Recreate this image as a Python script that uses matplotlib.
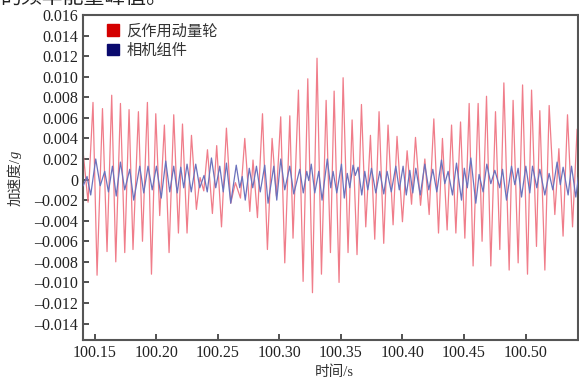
import matplotlib
matplotlib.use("Agg")
import matplotlib.pyplot as plt
from matplotlib.ticker import FixedLocator, FuncFormatter
from matplotlib.patches import Patch

plt.rcParams['font.family'] = ['Liberation Serif', 'Noto Sans CJK SC', 'DejaVu Sans']

# time in ms after 100 s, acceleration in g
red_t_ms = [140.7, 144.6, 148.6, 151.9, 156.3, 160.0, 163.8, 167.1, 170.9, 174.4,
            177.9, 181.1, 185.5, 188.8, 192.8, 196.1, 199.6, 202.8, 206.6, 210.4,
            214.2, 218.0, 221.3, 225.0, 228.6, 232.6, 235.6, 238.6, 241.6, 245.6,
            249.1, 253.0, 257.0, 260.5, 264.3, 268.4, 271.9, 276.0, 278.6, 282.2,
            286.3, 290.3, 294.1, 297.6, 301.1, 304.4, 308.5, 311.1, 315.5, 319.3,
            323.1, 326.9, 330.6, 334.2, 338.0, 341.5, 344.5, 348.5, 351.8, 355.8,
            359.1, 363.1, 366.7, 370.2, 374.0, 377.5, 381.0, 384.8, 388.3, 392.4,
            395.6, 400.0, 403.8, 407.4, 410.6, 414.7, 418.2, 421.7, 425.5, 429.3,
            432.5, 436.3, 439.9, 443.4, 447.2, 450.7, 454.2, 457.4, 461.5, 464.7,
            468.3, 471.8, 475.6, 479.1, 482.4, 486.7, 489.9, 494.0, 497.6, 501.6,
            504.9, 508.9, 511.6, 515.7, 519.2, 523.8, 527.1, 530.5, 534.1, 538.2,
            541.9, 542.9]
red_acc = [0.0025, -0.0022, 0.0075, -0.0093, 0.0069, -0.0070, 0.0082, -0.0080, 0.0074, -0.0071,
           0.0068, -0.0068, 0.0066, -0.0060, 0.0075, -0.0092, 0.0064, -0.0035, 0.0053, -0.0071,
           0.0063, -0.0052, 0.0054, -0.0052, 0.0043, -0.0029, 0.0002, -0.0011, 0.0029, -0.0033,
           0.0033, -0.0046, 0.0050, -0.0023, -0.0003, -0.0018, 0.0040, -0.0031, 0.0019, -0.0037,
           0.0064, -0.0068, 0.0040, -0.0016, 0.0061, -0.0081, 0.0062, -0.0057, 0.0087, -0.0099,
           0.0098, -0.0110, 0.0118, -0.0092, 0.0077, -0.0071, 0.0086, -0.0100, 0.0099, -0.0071,
           0.0058, -0.0073, 0.0073, -0.0046, 0.0043, -0.0058, 0.0066, -0.0062, 0.0053, -0.0044,
           0.0042, -0.0041, 0.0028, -0.0024, 0.0041, -0.0025, 0.0020, -0.0034, 0.0059, -0.0052,
           0.0040, -0.0049, 0.0053, -0.0052, 0.0056, -0.0057, 0.0074, -0.0084, 0.0074, -0.0060,
           0.0081, -0.0084, 0.0066, -0.0068, 0.0094, -0.0088, 0.0077, -0.0081, 0.0092, -0.0092,
           0.0087, -0.0065, 0.0067, -0.0088, 0.0072, -0.0034, 0.0030, -0.0055, 0.0063, -0.0046,
           0.0049, 0.0040]

blue_t_ms = [140.65, 143.74, 146.75, 150.81, 154.47, 158.13, 161.13, 164.38, 167.47, 170.88,
             174.38, 178.44, 181.69, 186.57, 189.82, 193.31, 196.72, 200.14, 204.04, 207.69,
             210.95, 214.20, 217.04, 219.88, 222.32, 225.00, 228.42, 232.07, 235.32, 238.82,
             241.42, 244.83, 248.32, 251.58, 254.42, 257.02, 260.51, 264.98, 267.83, 269.86,
             272.30, 275.55, 278.39, 281.40, 284.49, 288.14, 290.82, 295.46, 297.89, 301.14,
             304.39, 308.46, 311.71, 316.58, 319.43, 322.27, 323.90, 325.93, 328.77, 332.02,
             334.70, 338.93, 341.77, 343.64, 346.65, 350.47, 352.74, 355.18, 357.21, 359.89,
             361.68, 363.96, 366.96, 369.40, 371.84, 374.85, 378.34, 381.59, 384.84, 387.52,
             390.94, 394.59, 397.44, 400.53, 403.12, 405.97, 408.41, 410.84, 414.50, 418.16,
             421.41, 424.66, 427.91, 431.73, 434.41, 437.09, 440.67, 443.92, 447.98, 450.25,
             452.69, 455.54, 459.60, 462.28, 465.53, 468.54, 471.79, 475.04, 479.10, 481.30,
             484.55, 488.61, 491.29, 493.97, 496.74, 500.23, 503.48, 505.67, 509.17, 511.61,
             515.67, 519.17, 522.17, 525.66, 528.27, 530.54, 534.60, 537.36, 540.86, 542.89]
blue_acc = [-0.0006, 0.0003, -0.0015, 0.0020, -0.0006, 0.0008, -0.0012, 0.0013, -0.0016, 0.0017,
            -0.0010, 0.0010, -0.0020, 0.0013, -0.0013, 0.0013, -0.0010, 0.0013, -0.0018, 0.0018,
            -0.0012, 0.0013, -0.0013, 0.0012, -0.0008, 0.0015, -0.0012, 0.0015, -0.0008, 0.0004,
            -0.0012, 0.0021, -0.0008, 0.0013, -0.0012, 0.0016, -0.0023, 0.0014, -0.0008, 0.0003,
            -0.0020, 0.0011, -0.0008, 0.0013, -0.0012, 0.0014, -0.0023, 0.0013, -0.0020, 0.0020,
            -0.0010, 0.0013, -0.0014, 0.0010, -0.0013, 0.0008, -0.0001, 0.0015, -0.0013, 0.0008,
            -0.0020, 0.0020, -0.0008, 0.0008, -0.0013, 0.0015, -0.0018, 0.0006, -0.0008, 0.0014,
            0.0004, 0.0012, -0.0015, 0.0008, -0.0010, 0.0011, -0.0013, 0.0008, -0.0014, 0.0008,
            -0.0012, 0.0013, -0.0010, 0.0013, -0.0015, 0.0009, -0.0013, 0.0011, -0.0015, 0.0015,
            -0.0010, 0.0010, -0.0012, 0.0019, -0.0004, 0.0008, -0.0015, 0.0016, -0.0020, 0.0011,
            -0.0008, 0.0021, -0.0023, 0.0005, -0.0012, 0.0015, -0.0004, 0.0009, -0.0008, 0.0010,
            -0.0020, 0.0013, -0.0005, 0.0011, -0.0017, 0.0013, -0.0013, 0.0013, -0.0008, 0.0010,
            -0.0015, 0.0006, -0.0010, 0.0017, -0.0005, 0.0012, -0.0015, 0.0013, -0.0017, 0.0002]

series_names = ['反作用动量轮', '相机组件']
x_ticks = [100.15, 100.20, 100.25, 100.30, 100.35, 100.40, 100.45, 100.50]
y_ticks = [-0.014, -0.012, -0.010, -0.008, -0.006, -0.004, -0.002, 0.0,
           0.002, 0.004, 0.006, 0.008, 0.010, 0.012, 0.014, 0.016]

red_t = [100 + v / 1000 for v in red_t_ms]
blue_t = [100 + v / 1000 for v in blue_t_ms]

fig = plt.figure(figsize=(5.79, 3.81), dpi=100)
ax = fig.add_axes([0.1434, 0.1076, 0.8546, 0.853])

ax.plot(red_t, red_acc, color='#f07d8a', lw=0.9, zorder=2, solid_joinstyle='round')
ax.plot(blue_t, blue_acc, color='#6b72bd', lw=0.9, zorder=3, solid_joinstyle='round')

ax.set_xlim(100.1405, 100.5425)
ax.set_ylim(-0.0156, 0.016)
ax.xaxis.set_major_locator(FixedLocator(x_ticks))
ax.yaxis.set_major_locator(FixedLocator(y_ticks))
ax.xaxis.set_major_formatter(FuncFormatter(lambda v, p: f"{v:.2f}"))

def yfmt(v, p):
    if abs(v) < 1e-9:
        return "0"
    s = f"{abs(v):.3f}"
    return ("\u2013" + s) if v < 0 else s

ax.yaxis.set_major_formatter(FuncFormatter(yfmt))
ax.tick_params(direction='in', length=4, width=1.2, colors='#333333',
               labelsize=11.5, labelcolor='#222222', top=False, right=False)
for side in ['left', 'bottom', 'top', 'right']:
    ax.spines[side].set_linewidth(1.5)
    ax.spines[side].set_color('#555555')

handles = [Patch(facecolor='#d40000', edgecolor='#d40000'),
           Patch(facecolor='#0a0a6e', edgecolor='#0a0a6e')]
leg = ax.legend(handles, series_names, loc='upper left', frameon=False,
                bbox_to_anchor=(0.02, 1.015), fontsize=11, handlelength=0.8,
                handleheight=0.8, handletextpad=0.5, labelspacing=0.35)
for t in leg.get_texts():
    t.set_color('#333333')

fig.text(0.578, 0.004, '时间/s', ha='center', va='bottom', fontsize=10.5, color='#333333')
fig.text(0.027, 0.585, '加速度/', rotation=90, ha='center', va='top', fontsize=10.5, color='#333333')
fig.text(0.027, 0.585, 'g', rotation=90, ha='center', va='bottom', fontsize=10.5,
         style='italic', color='#333333')
fig.text(0.0, 0.993, '的频率能量峰值。', ha='left', va='baseline', fontsize=15, color='#222222')

fig.savefig('out.png', dpi=100)
